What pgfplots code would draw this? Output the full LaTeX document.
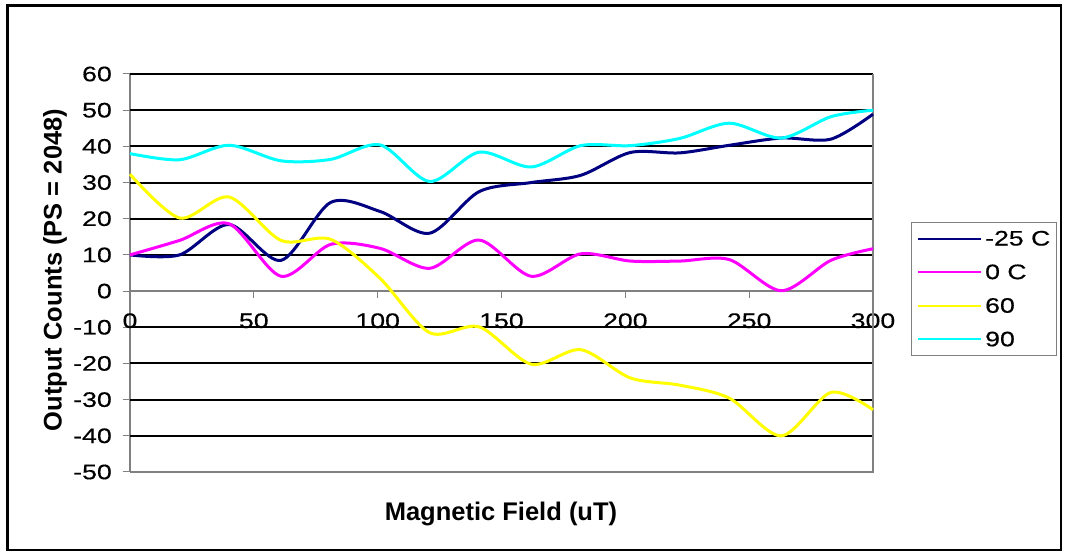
\documentclass[border=0pt]{standalone}
\usepackage{pgfplots}
\pgfplotsset{compat=1.18}
\usepackage{fontspec}
\setmainfont{Liberation Sans}[FakeStretch=1.27, FakeBold=0.4]
\newfontfamily\lblfont{Liberation Sans}
\definecolor{navyc}{RGB}{0,0,128}
\definecolor{magc}{RGB}{255,0,255}
\definecolor{yelc}{RGB}{255,255,0}
\definecolor{cyac}{RGB}{0,255,255}
\definecolor{axgray}{RGB}{128,128,128}
\begin{document}
\begin{tikzpicture}
\path[use as bounding box] (-130pt,-84pt) rectangle (935pt,472pt);
\draw[black, line width=2.5pt] (-122.5pt,-78pt) rectangle (931pt,466.5pt);
\begin{axis}[
  scale only axis, width=743pt, height=398pt,
  xmin=0, xmax=300, ymin=-50, ymax=60,
  clip=false,
  axis x line=middle, axis y line=left,
  axis line style={-, draw=axgray, line width=1.3pt},
  xtick={0,50,...,300}, ytick={-50,-40,...,60},
  hide obscured x ticks=false,
  tick align=outside,
  major tick length=7pt,
  tick style={axgray, line width=1pt},
  extra y ticks={-40,-30,-20,-10,10,20,30,40,50,60},
  extra y tick labels={},
  extra y tick style={grid=major, tick style={draw=none}},
  major grid style={black, line width=2pt},
  /pgf/number format/assume math mode=true,
  ticklabel style={font=\fontsize{21}{24}\selectfont, inner sep=0pt},
  yticklabel shift=11pt,
  xticklabel shift=15pt,
  every axis y label/.style={at={(axis description cs:-0.101,0.5075)}, rotate=90, anchor=center},
  every axis x label/.style={at={(axis description cs:0.4993,-0.1055)}, anchor=center},
  xlabel={\lblfont\fontsize{25.5}{30}\selectfont\bfseries Magnetic Field (uT)},
  ylabel={\lblfont\fontsize{25.5}{30}\selectfont\bfseries Output Counts (PS = 2048)},
  legend style={at={(axis description cs:1.0511,0.6281)}, anchor=north west,
    draw=axgray, line width=1pt, inner xsep=5.7pt, inner ysep=9pt,
    row sep=19.6pt, column sep=3pt, font=\fontsize{21}{24}\selectfont,
    nodes={inner sep=0pt, text height=14pt, text depth=0pt}},
  legend cell align=left,
  legend image code/.code={\draw[#1, line width=2pt] (0pt,0pt) -- (63pt,0pt);},
]
\draw[axgray, line width=1.3pt] (rel axis cs:0,0) -- (rel axis cs:1,0) -- (rel axis cs:1,1);
\addplot[navyc, line width=3pt, smooth] coordinates {
(0,10) (20,10) (40,18.4) (61,8.5) (81,24.5) (101,22) (121,16) (141,27.5)
(162,30) (182,32) (202,38.3) (222,38.2) (242,40.3) (263,42.3) (283,42) (300,48.9)};
\addlegendentry{-25 C}
\addplot[magc, line width=3pt, smooth] coordinates {
(0,10) (20,14) (40,18.6) (61,4.1) (81,12.9) (101,11.8) (121,6.3) (141,14.1)
(162,4.1) (182,10.3) (202,8.3) (222,8.3) (242,8.7) (263,0.1) (283,8.5) (300,11.7)};
\addlegendentry{0 C}
\addplot[yelc, line width=3pt, smooth] coordinates {
(0,32.3) (20,20.2) (40,26) (61,14) (81,14.3) (101,3.5) (121,-11.5) (141,-9.9)
(162,-20.2) (182,-16.2) (202,-24) (222,-26) (242,-29.6) (263,-40) (283,-28) (300,-32.8)};
\addlegendentry{60}
\addplot[cyac, line width=3pt, smooth] coordinates {
(0,38) (20,36.3) (40,40.3) (61,36) (81,36.4) (101,40.4) (121,30.3) (141,38.4)
(162,34.3) (182,40.2) (202,40.2) (222,42.2) (242,46.4) (263,42.3) (283,48.2) (300,50)};
\addlegendentry{90}
\end{axis}
\end{tikzpicture}
\end{document}
